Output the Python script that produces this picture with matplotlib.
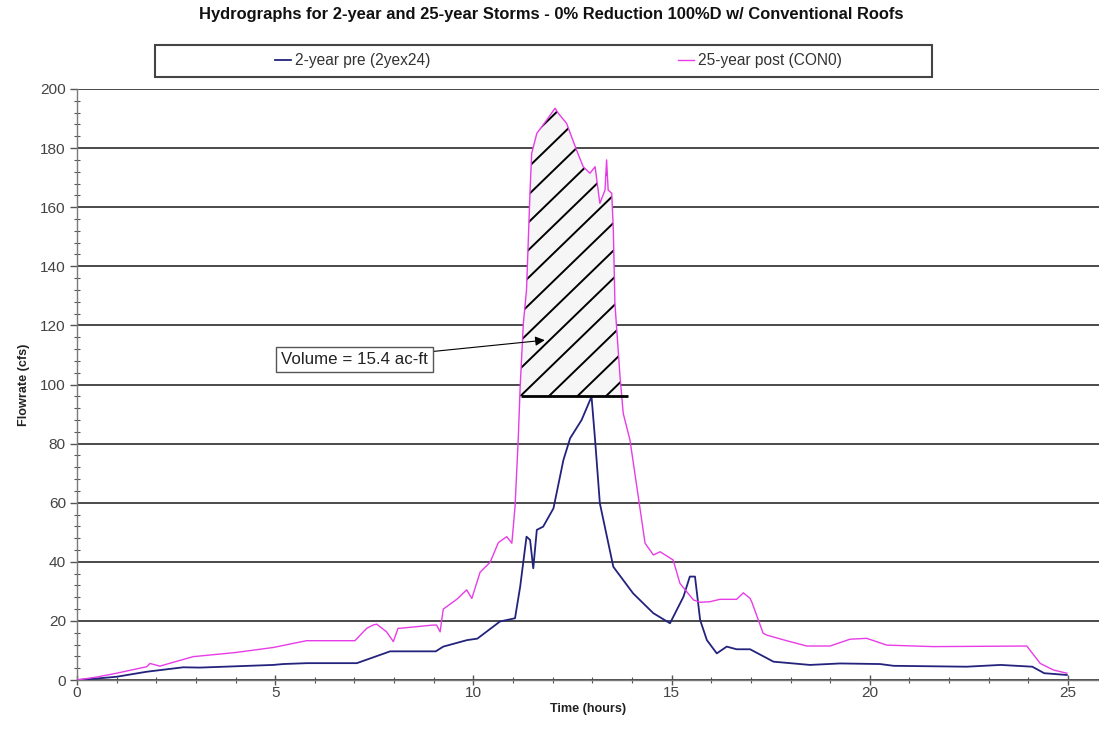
import numpy as np
import matplotlib
matplotlib.use("Agg")
import matplotlib.pyplot as plt
from matplotlib.patches import Rectangle
from matplotlib.ticker import MultipleLocator

plt.rcParams['font.family'] = ['Liberation Sans', 'DejaVu Sans']

# ---- data ----
title = "Hydrographs for 2-year and 25-year Storms - 0% Reduction 100%D w/ Conventional Roofs"
label_pre = "2-year pre (2yex24)"
label_post = "25-year post (CON0)"

t_pre = [0, 0.5, 1.0, 1.76, 2.68, 3.1, 4.95, 5.2, 5.8, 7.06, 7.9, 9.05, 9.24, 9.84, 10.1,
         10.67, 11.05, 11.18, 11.34, 11.43, 11.51, 11.6, 11.76, 12.02, 12.27, 12.44, 12.73,
         12.98, 13.07, 13.19, 13.53, 14.03, 14.54, 14.96, 15.3, 15.46, 15.59, 15.72, 15.89,
         16.14, 16.39, 16.64, 16.98, 17.57, 18.49, 19.25, 20.26, 20.6, 22.44, 23.3, 24.1,
         24.4, 24.97]
q_pre = [0, 0.5, 1.1, 2.8, 4.3, 4.2, 5.1, 5.4, 5.7, 5.7, 9.7, 9.7, 11.3, 13.5, 14.0,
         19.8, 20.9, 31.6, 48.5, 47.4, 37.8, 50.8, 51.9, 58.1, 74.4, 81.8, 88.0,
         95.9, 81.2, 59.8, 38.3, 29.3, 22.6, 19.2, 28.2, 35.0, 35.0, 20.3, 13.5,
         9.0, 11.3, 10.4, 10.4, 6.2, 5.1, 5.6, 5.4, 4.8, 4.5, 5.1, 4.5,
         2.3, 1.7]

t_post = [0, 0.5, 1.0, 1.76, 1.84, 2.09, 2.93, 4.0, 4.95, 5.79, 7.01, 7.31, 7.47, 7.56, 7.81,
          7.98, 8.1, 8.15, 8.99, 9.07, 9.16, 9.24, 9.58, 9.83, 9.96, 10.17, 10.42, 10.63,
          10.84, 10.97, 11.05, 11.13, 11.18, 11.26, 11.34, 11.43, 11.47, 11.6, 11.85, 12.06,
          12.14, 12.35, 12.6, 12.77, 12.94, 13.07, 13.19, 13.32, 13.36, 13.4, 13.49, 13.53,
          13.57, 13.7, 13.78, 13.95, 14.16, 14.33, 14.54, 14.71, 15.04, 15.21, 15.55, 15.72,
          15.97, 16.22, 16.64, 16.81, 16.98, 17.02, 17.31, 17.4, 17.9, 18.41, 19.0, 19.5,
          19.92, 20.43, 21.6, 23.96, 24.3, 24.63, 24.97]
q_post = [0, 1.0, 2.3, 4.5, 5.6, 4.7, 7.9, 9.3, 11.0, 13.3, 13.3, 17.5, 18.6, 18.9, 16.3,
          13.0, 17.5, 17.5, 18.6, 18.6, 16.3, 24.0, 27.3, 30.5, 27.6, 36.5, 39.8, 46.5,
          48.5, 46.3, 58.6, 81.2, 99.3, 120.7, 132.0, 165.8, 178.2, 185.0, 189.5, 193.5,
          191.8, 188.4, 179.4, 173.7, 171.5, 173.7, 161.3, 165.8, 176.0, 165.8, 164.7, 152.3,
          127.5, 102.5, 90.2, 81.2, 62.0, 46.3, 42.3, 43.4, 40.6, 32.7, 27.1, 26.3,
          26.5, 27.3, 27.3, 29.5, 27.6, 26.5, 15.8, 15.2, 13.3, 11.5, 11.5, 13.8,
          14.1, 11.8, 11.3, 11.5, 5.6, 3.4, 2.3]

threshold = 96.0          # 2-year pre peak (cfs)
excess_start, excess_end = 11.2, 13.9
volume_text = "Volume = 15.4 ac-ft"

assert len(t_pre) == len(q_pre) and len(t_post) == len(q_post)

# ---- figure ----
W, H = 1099, 749
fig = plt.figure(figsize=(W / 100, H / 100), dpi=100)
ax = fig.add_axes([77 / W, 69 / H, (W - 77) / W, 591 / H])
renderer = fig.canvas.get_renderer()


def fit_size(text, target_px, weight="normal", base=10.0):
    t = fig.text(0, 0, text, fontsize=base, fontweight=weight)
    w = t.get_window_extent(renderer).width
    t.remove()
    return base * target_px / w


c_pre = "#23237e"
c_post = "#e83ce8"

ln_pre, = ax.plot(t_pre, q_pre, color=c_pre, lw=1.3, label=label_pre, zorder=4)
ln_post, = ax.plot(t_post, q_post, color=c_post, lw=1.0, label=label_post, zorder=4)

# hatched excess volume region
tp = np.array(t_post); qp = np.array(q_post)
fill = ax.fill_between(tp, qp, threshold, where=(qp >= threshold) & (tp <= excess_end),
                       interpolate=True, facecolor="#f6f6f6", edgecolor="none", zorder=2)
clip_path = fill.get_paths()[0]
slope = 13.0
for c in np.arange(excess_start - 6.5, excess_end + 0.5, 0.72):
    xs = np.array([c, c + 8.0])
    ys = threshold + slope * (xs - c)
    l, = ax.plot(xs, ys, color="black", lw=1.4, zorder=3)
    l.set_clip_path(clip_path, ax.transData)
ax.hlines(threshold, excess_start, excess_end, color="black", lw=2.0, zorder=5)

# annotation
ann_fs = fit_size(volume_text, 146)
ax.annotate(volume_text, xy=(11.8, 115), xytext=(5.15, 108.5),
            ha="left", va="center", fontsize=ann_fs, color="#222222",
            bbox=dict(boxstyle="square,pad=0.3", fc="white", ec="#555555", lw=1.0),
            arrowprops=dict(arrowstyle="-|>", color="black", lw=0.8,
                            mutation_scale=14, shrinkA=0, shrinkB=0),
            zorder=6)

# axes formatting
ax.set_xlim(0, (W - 77) / 39.64)
ax.set_ylim(0, 200)
ax.xaxis.set_major_locator(MultipleLocator(5))
ax.xaxis.set_minor_locator(MultipleLocator(1))
ax.yaxis.set_major_locator(MultipleLocator(20))
ax.yaxis.set_minor_locator(MultipleLocator(4))
ax.grid(axis="y", which="major", color="#3c3c3c", lw=1.3, zorder=1)
ax.set_axisbelow(True)
for s in ["top", "right"]:
    ax.spines[s].set_visible(False)
for s in ["left", "bottom"]:
    ax.spines[s].set_color("#7a7a7a")
    ax.spines[s].set_linewidth(1.0)
tick_fs = fit_size("200", 26)
ax.tick_params(axis="both", which="major", length=5, color="#555555",
               labelsize=tick_fs, labelcolor="#444444", width=1)
ax.tick_params(axis="y", which="major", direction="out", pad=3)
ax.tick_params(axis="x", which="major", direction="inout", length=7, pad=1)
ax.tick_params(axis="both", which="minor", direction="inout", length=4, color="#555555", width=0.8)

lab_fs = fit_size("Flowrate (cfs)", 82, weight="bold")
ax.set_xlabel("Time (hours)", fontsize=lab_fs, fontweight="bold",
              color="#222222", labelpad=2)
ax.set_ylabel("Flowrate (cfs)", fontsize=lab_fs, fontweight="bold",
              color="#222222", labelpad=7)

title_fs = fit_size(title, 703, weight="bold")
fig.text(551 / W, 1 - 15 / H, title, ha="center", va="center", fontsize=title_fs,
         fontweight="bold", color="#111111")

# legend box
fig.add_artist(Rectangle((155 / W, 1 - 77 / H), (932 - 155) / W, 32 / H,
                         transform=fig.transFigure, fc="white", ec="#444444", lw=1.5))
leg_fs = fit_size(label_pre, 137)
for ln, x0 in [(ln_pre, 275), (ln_post, 678)]:
    fig.legend(handles=[ln], loc="center left", bbox_to_anchor=(x0 / W, 1 - 61 / H),
               frameon=False, handlelength=16 / (leg_fs * 100 / 72),
               handletextpad=0.25, borderpad=0, borderaxespad=0, labelcolor="#333333",
               prop={"size": leg_fs})

fig.savefig("out.png", dpi=100)
